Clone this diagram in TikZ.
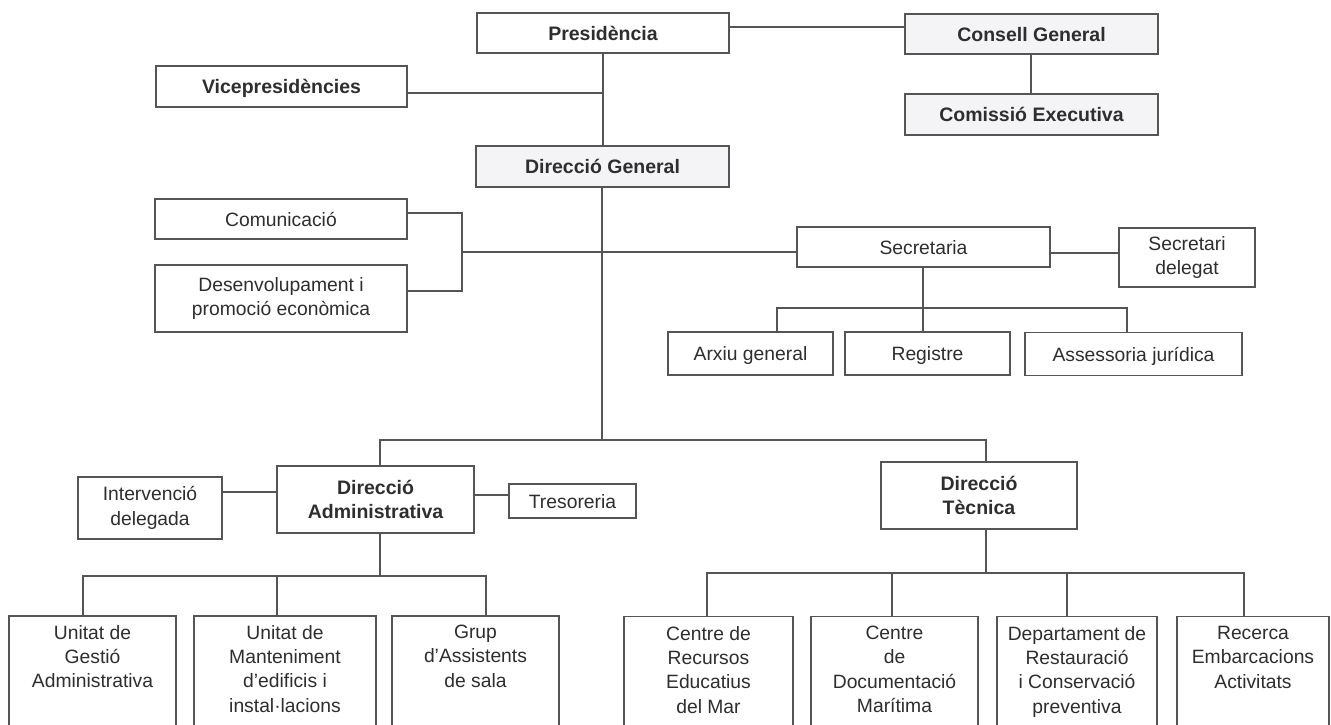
\documentclass[tikz,border=0pt]{standalone}
\usepackage{fontspec}
\setmainfont{Liberation Sans}
\usetikzlibrary{calc}
\definecolor{ink}{HTML}{2E2E2E}
\definecolor{edge}{HTML}{555555}
\definecolor{tint}{HTML}{F4F4F7}
\tikzset{
 bx/.style={draw=edge, line width=1.4pt, fill=white, inner sep=0pt, align=center, text=ink, font=\fontsize{19.3}{24.3}\selectfont},
 one/.style={text height=14pt, text depth=0pt},
 bd/.style={font=\fontsize{19.5}{24.3}\selectfont\bfseries},
 tinted/.style={fill=tint},
 ln/.style={draw=edge, line width=1.4pt},
 lbl/.style={inner sep=0pt, align=center, text=ink, font=\fontsize{19.3}{24.3}\selectfont, anchor=north},
}
\begin{document}
\begin{tikzpicture}[x=1pt,y=-1pt]
\path[use as bounding box] (0,0) rectangle (1331,724);
\clip (0,0) rectangle (1331,724);
\fill[white] (0,0) rectangle (1331,724);

% top level
\node[bx, bd, one, minimum width=252pt, minimum height=40pt] (pres) at (603,33) {Presidència};
\node[bx, bd, one, tinted, minimum width=253pt, minimum height=40pt] (cons) at (1031.5,34) {Consell General};
\node[bx, bd, one, tinted, minimum width=253pt, minimum height=41pt] (comi) at (1031.5,114.5) {Comissió Executiva};
\node[bx, bd, one, minimum width=251pt, minimum height=41pt] (vice) at (281.5,86.5) {Vicepresidències};
\node[bx, bd, one, tinted, minimum width=253pt, minimum height=41pt] (dirg) at (602.5,166.5) {Direcció General};

% staff units
\node[bx, one, minimum width=252pt, minimum height=40pt] (comu) at (281,219) {Comunicació};
\node[bx, minimum width=252pt, minimum height=67pt] (dese) at (281,298.5) {Desenvolupament i\\promoció econòmica};
\node[bx, one, minimum width=253pt, minimum height=40pt] (secr) at (923.5,247) {Secretaria};
\node[bx, minimum width=136pt, minimum height=59pt] (secd) at (1187,257.5) {Secretari\\delegat};
\node[bx, one, minimum width=165pt, minimum height=43pt] (arxi) at (750.5,353.5) {Arxiu general};
\node[bx, one, minimum width=165pt, minimum height=43pt] (regi) at (927.5,353.5) {Registre};
\node[bx, one, minimum width=217pt, minimum height=43pt] (asse) at (1133.5,354) {Assessoria jurídica};

% directions
\node[bx, bd, minimum width=197pt, minimum height=67pt] (dadm) at (375.5,499.5) {Direcció\\Administrativa};
\node[bx, minimum width=144pt, minimum height=62pt] (inte) at (150,508) {Intervenció\\delegada};
\node[bx, one, minimum width=127pt, minimum height=34pt] (treso) at (572.5,501) {Tresoreria};
\node[bx, bd, minimum width=196pt, minimum height=67pt] (dtec) at (979,495.5) {Direcció\\Tècnica};

% bottom boxes (run off the bottom edge)
\node[bx, minimum width=167pt, minimum height=119pt] (ug) at (92.5,675.5) {};
\node[bx, minimum width=182pt, minimum height=119pt] (um) at (285,675.5) {};
\node[bx, minimum width=167pt, minimum height=119pt] (gr) at (475.5,675.5) {};
\node[bx, minimum width=169pt, minimum height=119pt] (cr) at (708.5,676) {};
\node[bx, minimum width=167pt, minimum height=119pt] (cd) at (894.5,676) {};
\node[bx, minimum width=160pt, minimum height=119pt] (dp) at (1077,676) {};
\node[bx, minimum width=152pt, minimum height=119pt] (rc) at (1253,676) {};

\node[lbl] (ugt) at (ug.north |- 0,625) {Unitat de\\Gestió\\Administrativa};
\node[lbl] (umt) at (um.north |- 0,625) {Unitat de\\Manteniment\\d’edificis i\\instal·lacions};
\node[lbl] (grt) at (gr.north |- 0,625) {Grup\\d’Assistents\\de sala};
\node[lbl] (crt) at (cr.north |- 0,626) {Centre de\\Recursos\\Educatius\\del Mar};
\node[lbl] (cdt) at (cd.north |- 0,626) {Centre\\de\\Documentació\\Marítima};
\node[lbl] (dpt) at (dp.north |- 0,626) {Departament de\\Restauració\\i Conservació\\preventiva};
\node[lbl] (rct) at (rc.north |- 0,626) {Recerca\\Embarcacions\\Activitats};

% connectors: top
\draw[ln] (pres.east |- 0,27) -- (cons.west |- 0,27);
\draw[ln] (cons.south -| 1031,0) -- (comi.north -| 1031,0);
\draw[ln] (pres.south) -- (dirg.north -| pres.south);
\draw[ln] (vice.east |- 0,93) -- (pres.south |- 0,93);
\coordinate (bar) at (602,440);
\draw[ln] (dirg.south -| bar) -- (bar);

% staff bracket
\coordinate (brk) at (462,252);
\draw[ln] (comu.east |- 0,213) -| (brk) |- (dese.east |- 0,291);
\draw[ln] (brk) -- (secr.west |- 0,252);
\draw[ln] (secr.east |- 0,253) -- (secd.west |- 0,253);
\coordinate (sbar) at (923,308);
\draw[ln] (secr.south -| sbar) -- (sbar);
\draw[ln] (arxi.north -| 777,0) |- (sbar) -| (asse.north -| 1127,0);
\draw[ln] (sbar) -- (regi.north -| sbar);

% main bar
\draw[ln] (dadm.north -| 380,0) |- (bar) -| (dtec.north -| 986,0);
\draw[ln] (inte.east |- 0,492) -- (dadm.west |- 0,492);
\draw[ln] (dadm.east |- 0,495) -- (treso.west |- 0,495);

% admin children
\coordinate (abar) at (380,576);
\draw[ln] (dadm.south -| abar) -- (abar);
\draw[ln] (ug.north -| 83,0) |- (abar) -| (gr.north -| 486,0);
\draw[ln] (um.north -| 277,0) -- (277,576);

% technical children
\coordinate (tbar) at (986,573);
\draw[ln] (dtec.south -| tbar) -- (tbar);
\draw[ln] (cr.north -| 707,0) |- (tbar) -| (rc.north -| 1244,0);
\draw[ln] (cd.north -| 892,0) -- (892,573);
\draw[ln] (dp.north -| 1067,0) -- (1067,573);
\end{tikzpicture}
\end{document}
